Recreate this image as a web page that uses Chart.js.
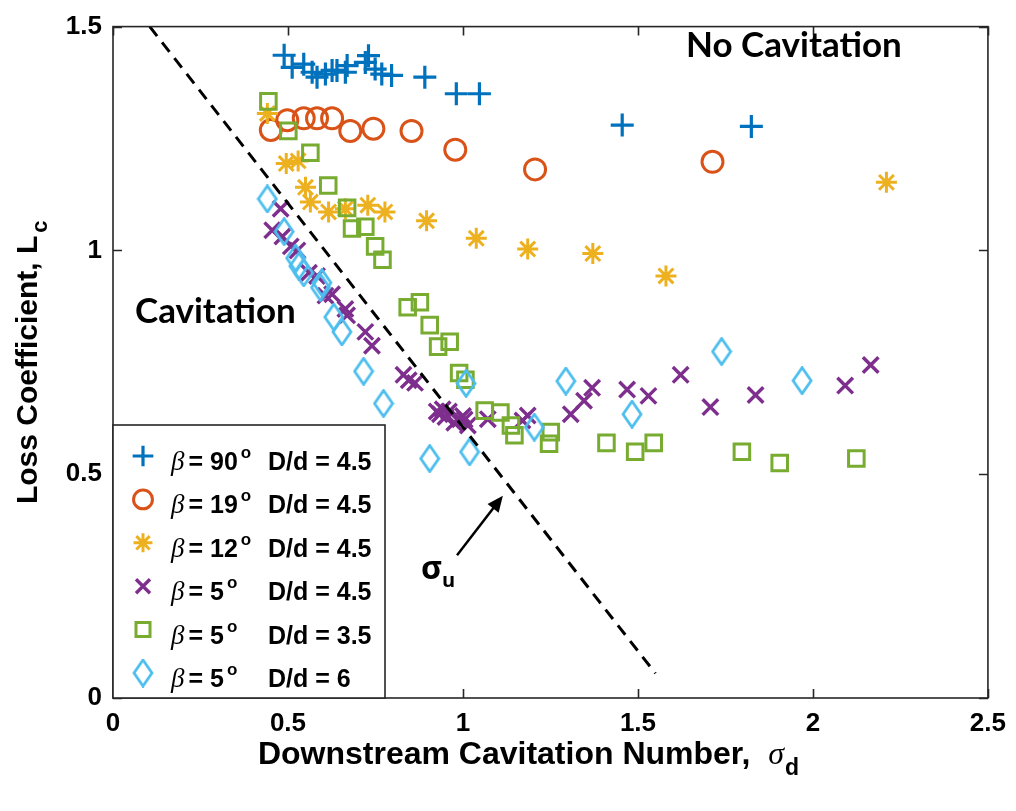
<!DOCTYPE html>
<html>
<head>
<meta charset="utf-8">
<script src="https://cdn.jsdelivr.net/npm/chart.js@4.4.1/dist/chart.umd.min.js"></script>
<style>
  html, body { margin: 0; padding: 0; background: #fff; }
</style>
</head>
<body>
<canvas id="grafico" width="1016" height="811"></canvas>
<script>
// beta = 90, D/d = 4.5
const sigma90 = [0.489, 0.512, 0.545, 0.569, 0.583, 0.607, 0.626, 0.640, 0.664, 0.669, 0.721, 0.730, 0.749, 0.768, 0.796, 0.891, 0.981, 1.047, 1.455, 1.824];
const loss90  = [1.436, 1.409, 1.416, 1.398, 1.387, 1.394, 1.402, 1.402, 1.398, 1.413, 1.420, 1.435, 1.405, 1.394, 1.391, 1.387, 1.350, 1.350, 1.280, 1.277];

// beta = 19, D/d = 4.5
const sigma19 = [0.451, 0.498, 0.545, 0.583, 0.626, 0.678, 0.744, 0.853, 0.978, 1.206, 1.713];
const loss19  = [1.269, 1.291, 1.295, 1.295, 1.295, 1.267, 1.272, 1.267, 1.225, 1.181, 1.198];

// beta = 12, D/d = 4.5
const sigma12 = [0.441, 0.495, 0.529, 0.550, 0.564, 0.616, 0.664, 0.728, 0.777, 0.896, 1.038, 1.185, 1.371, 1.580, 2.210];
const loss12  = [1.306, 1.194, 1.200, 1.141, 1.108, 1.086, 1.093, 1.101, 1.086, 1.066, 1.027, 1.003, 0.993, 0.943, 1.152];

// beta = 5, D/d = 4.5
const sigma5a = [0.479, 0.455, 0.484, 0.508, 0.527, 0.560, 0.583, 0.607, 0.626, 0.664, 0.669, 0.721, 0.740, 0.830, 0.863, 0.845, 0.925, 0.934, 0.950, 0.991, 1.000, 1.014, 1.071, 1.185, 1.308, 1.346, 1.369, 1.469, 1.530, 1.622, 1.707, 1.836, 2.092, 2.165, 0.942, 0.975, 1.005, 0.960, 1.170];
const loss5a  = [1.093, 1.045, 1.031, 1.009, 1.000, 0.950, 0.943, 0.899, 0.902, 0.869, 0.855, 0.818, 0.787, 0.722, 0.704, 0.710, 0.640, 0.634, 0.628, 0.623, 0.630, 0.609, 0.623, 0.631, 0.634, 0.664, 0.693, 0.689, 0.675, 0.722, 0.650, 0.677, 0.698, 0.744, 0.645, 0.615, 0.622, 0.640, 0.620];

// beta = 5, D/d = 3.5
const sigma5b = [0.444, 0.501, 0.564, 0.615, 0.669, 0.683, 0.721, 0.749, 0.770, 0.842, 0.877, 0.905, 0.929, 0.962, 0.989, 1.007, 1.062, 1.107, 1.137, 1.147, 1.251, 1.246, 1.410, 1.492, 1.545, 1.797, 1.905, 2.124];
const loss5b  = [1.333, 1.267, 1.218, 1.145, 1.095, 1.049, 1.053, 1.009, 0.979, 0.873, 0.884, 0.833, 0.785, 0.796, 0.726, 0.711, 0.642, 0.638, 0.609, 0.587, 0.594, 0.568, 0.570, 0.550, 0.570, 0.550, 0.525, 0.535];

// beta = 5, D/d = 6
const sigma5c = [0.441, 0.489, 0.522, 0.531, 0.545, 0.593, 0.597, 0.631, 0.654, 0.716, 0.773, 0.905, 1.019, 1.009, 1.204, 1.294, 1.483, 1.739, 1.969];
const loss5c  = [1.115, 1.042, 0.983, 0.965, 0.950, 0.917, 0.928, 0.851, 0.818, 0.730, 0.658, 0.535, 0.550, 0.703, 0.605, 0.708, 0.634, 0.774, 0.709];

// sigma_u line
const sigmaULineX = [0.105, 1.55];
const sigmaULineY = [1.5, 0.055];

// legend labels
const angulos = ['90', '19', '12', '5', '5', '5'];
const razones = ['4.5', '4.5', '4.5', '4.5', '3.5', '6'];

const xTicks = [0, 0.5, 1, 1.5, 2, 2.5];
const yTicks = [0, 0.5, 1, 1.5];

const colores = ['#0072BD', '#D95319', '#EDB120', '#7E2F8E', '#77AC30', '#4DBEEE'];

function zip(xs, ys) {
    return xs.map((x, i) => ({ x: x, y: ys[i] }));
}

// tall diamond like matlab 'd'
function diamante(color, w, h) {
    const c = document.createElement('canvas');
    c.width = w;
    c.height = h;
    const g = c.getContext('2d');
    g.strokeStyle = color;
    g.lineWidth = 2.8;
    g.lineJoin = 'miter';
    g.beginPath();
    g.moveTo(w / 2, 1.5);
    g.lineTo(w - 2, h / 2);
    g.lineTo(w / 2, h - 1.5);
    g.lineTo(2, h / 2);
    g.closePath();
    g.stroke();
    return c;
}

const marcadores = [
    { pointStyle: 'cross', radius: 11.5, borderWidth: 3.2 },
    { pointStyle: 'circle', radius: 10.5, borderWidth: 3 },
    { pointStyle: 'star', radius: 10.5, borderWidth: 3 },
    { pointStyle: 'crossRot', radius: 11, borderWidth: 3.4 },
    { pointStyle: 'rect', radius: 11, borderWidth: 3 },
    { pointStyle: diamante(colores[5], 22, 29), radius: 11, borderWidth: 2.8 }
];

const series = [
    zip(sigma90, loss90),
    zip(sigma19, loss19),
    zip(sigma12, loss12),
    zip(sigma5a, loss5a),
    zip(sigma5b, loss5b),
    zip(sigma5c, loss5c)
];

const datasets = series.map((datos, i) => ({
    data: datos,
    showLine: false,
    pointStyle: marcadores[i].pointStyle,
    pointRadius: marcadores[i].radius,
    pointBorderWidth: marcadores[i].borderWidth,
    pointBorderColor: colores[i],
    pointBackgroundColor: 'rgba(0,0,0,0)',
    order: 6 - i
}));

datasets.push({
    data: zip(sigmaULineX, sigmaULineY),
    showLine: true,
    borderColor: '#000',
    borderWidth: 3,
    borderDash: [12, 8],
    pointRadius: 0,
    order: 0
});

const fuenteEjes = "'Liberation Sans', Arial, sans-serif";

// box and inward ticks
const marco = {
    id: 'marco',
    afterDatasetsDraw(chart) {
        const { ctx, chartArea: a, scales: { x, y } } = chart;
        ctx.save();
        ctx.strokeStyle = '#262626';
        ctx.lineWidth = 1.6;
        ctx.strokeRect(a.left, a.top, a.right - a.left, a.bottom - a.top);
        ctx.beginPath();
        xTicks.forEach(v => {
            const px = Math.round(x.getPixelForValue(v)) + 0.5;
            ctx.moveTo(px, a.bottom); ctx.lineTo(px, a.bottom - 9);
            ctx.moveTo(px, a.top); ctx.lineTo(px, a.top + 9);
        });
        yTicks.forEach(v => {
            const py = Math.round(y.getPixelForValue(v)) + 0.5;
            ctx.moveTo(a.left, py); ctx.lineTo(a.left + 9, py);
            ctx.moveTo(a.right, py); ctx.lineTo(a.right - 9, py);
        });
        ctx.stroke();
        ctx.restore();
    }
};

function textoConSub(ctx, partes, x, y, align) {
    let total = 0;
    partes.forEach(p => { ctx.font = p.font; p.w = ctx.measureText(p.t).width; total += p.w + (p.gap || 0); });
    let cx = align === 'center' ? x - total / 2 : x;
    partes.forEach(p => {
        ctx.font = p.font;
        ctx.fillText(p.t, cx, y + (p.dy || 0));
        cx += p.w + (p.gap || 0);
    });
}

const anotaciones = {
    id: 'anotaciones',
    afterDraw(chart) {
        const { ctx, chartArea: a, scales: { x, y } } = chart;
        ctx.save();
        ctx.fillStyle = '#000';
        ctx.textBaseline = 'alphabetic';
        ctx.textAlign = 'left';

        // axis titles
        const centroX = (a.left + a.right) / 2;
        textoConSub(ctx, [
            { t: 'Downstream Cavitation Number,  ', font: 'bold 32px ' + fuenteEjes },
            { t: 'σ', font: "italic 32px 'Liberation Serif', serif", gap: 1 },
            { t: 'd', font: 'bold 23px ' + fuenteEjes, dy: 11 }
        ], centroX - 22, 764, 'center');

        ctx.save();
        ctx.translate(37, (a.top + a.bottom) / 2);
        ctx.rotate(-Math.PI / 2);
        textoConSub(ctx, [
            { t: 'Loss Coefficient, L', font: 'bold 30px ' + fuenteEjes, gap: 3 },
            { t: 'c', font: 'bold 22px ' + fuenteEjes, dy: 10 }
        ], 0, 0, 'center');
        ctx.restore();

        // region labels
        ctx.font = "bold 35px Lato, 'Open Sans', sans-serif";
        ctx.fillText('No Cavitation', 686, 57);
        ctx.fillText('Cavitation', 135, 323);

        // sigma_u arrow
        const x0 = x.getPixelForValue(0.983), y0 = y.getPixelForValue(0.319);
        const x1 = x.getPixelForValue(1.114), y1 = y.getPixelForValue(0.452);
        const ang = Math.atan2(y1 - y0, x1 - x0);
        ctx.strokeStyle = '#000';
        ctx.lineWidth = 2.5;
        ctx.beginPath();
        ctx.moveTo(x0, y0);
        ctx.lineTo(x1 - 12 * Math.cos(ang), y1 - 12 * Math.sin(ang));
        ctx.stroke();
        ctx.beginPath();
        ctx.moveTo(x1, y1);
        ctx.lineTo(x1 - 16 * Math.cos(ang) + 7 * Math.sin(ang), y1 - 16 * Math.sin(ang) - 7 * Math.cos(ang));
        ctx.lineTo(x1 - 16 * Math.cos(ang) - 7 * Math.sin(ang), y1 - 16 * Math.sin(ang) + 7 * Math.cos(ang));
        ctx.closePath();
        ctx.fill();
        textoConSub(ctx, [
            { t: 'σ', font: "bold 32px 'Open Sans', sans-serif" },
            { t: 'u', font: "bold 20px 'Open Sans', sans-serif", dy: 8 }
        ], 421, 579, 'left');

        // legend
        const lx = a.left, ly = 425, lw = 272, lh = a.bottom - 425;
        ctx.fillStyle = '#fff';
        ctx.fillRect(lx, ly, lw, lh);
        ctx.strokeStyle = '#262626';
        ctx.lineWidth = 1.6;
        ctx.strokeRect(lx, ly, lw, lh);
        for (let i = 0; i < 6; i++) {
            const base = 470 + i * 43.4;
            const my = base - 14;
            const m = marcadores[i];
            ctx.save();
            ctx.strokeStyle = colores[i];
            ctx.fillStyle = 'rgba(0,0,0,0)';
            ctx.lineWidth = m.borderWidth;
            Chart.helpers.drawPoint(ctx, {
                pointStyle: m.pointStyle,
                radius: typeof m.pointStyle === 'string' ? m.radius * 0.9 : m.radius,
                borderWidth: m.borderWidth,
                rotation: 0
            }, 143, my);
            ctx.restore();

            ctx.fillStyle = '#000';
            ctx.font = "italic 27px 'Liberation Serif', serif";
            ctx.fillText('β', 171, base);
            let cx = 171 + ctx.measureText('β').width + 4;
            ctx.font = 'bold 25px ' + fuenteEjes;
            const s = '= ' + angulos[i];
            ctx.fillText(s, cx, base);
            cx += ctx.measureText(s).width + 3;
            ctx.font = 'bold 17px ' + fuenteEjes;
            ctx.fillText('o', cx, base - 12);
            ctx.font = 'bold 25px ' + fuenteEjes;
            ctx.fillText('D/d = ' + razones[i], 268, base);
        }
        ctx.restore();
    }
};

window.onload = function () {
    const ctx = document.getElementById('grafico').getContext('2d');
    new Chart(ctx, {
        type: 'scatter',
        data: { datasets: datasets },
        options: {
            responsive: false,
            animation: false,
            events: [],
            devicePixelRatio: 1,
            layout: { padding: { left: 0, right: 23, top: 16, bottom: 0 } },
            plugins: {
                legend: { display: false },
                tooltip: { enabled: false }
            },
            scales: {
                x: {
                    type: 'linear',
                    min: 0,
                    max: 2.5,
                    grid: { display: false, drawTicks: false },
                    border: { display: false },
                    ticks: {
                        stepSize: 0.5,
                        color: '#000',
                        padding: 10,
                        maxRotation: 0,
                        font: { family: fuenteEjes, weight: 'bold', size: 26 },
                        callback: v => String(v)
                    },
                    afterFit(s) { s.height = 113; }
                },
                y: {
                    type: 'linear',
                    min: 0,
                    max: 1.5,
                    grid: { display: false, drawTicks: false },
                    border: { display: false },
                    ticks: {
                        stepSize: 0.5,
                        color: '#000',
                        padding: 11,
                        font: { family: fuenteEjes, weight: 'bold', size: 26 },
                        callback: v => String(v)
                    },
                    afterFit(s) { s.width = 113; }
                }
            }
        },
        plugins: [marco, anotaciones]
    });
};
</script>
</body>
</html>
